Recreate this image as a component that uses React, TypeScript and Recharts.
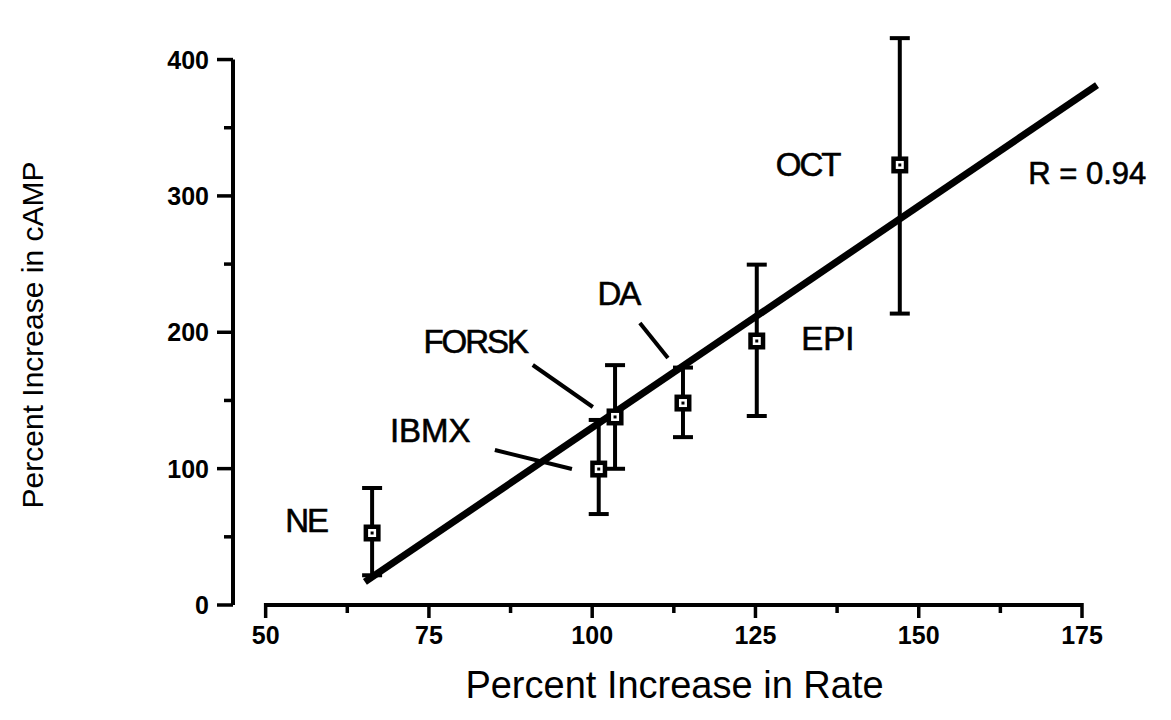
import React from 'react'
import {
    ScatterChart,
    Scatter,
    XAxis,
    YAxis,
    ErrorBar,
    ReferenceLine,
    ReferenceDot,
} from 'recharts'

// drug responses: rate increase vs cAMP increase
const DRUGS = ['NE', 'IBMX', 'FORSK', 'DA', 'EPI', 'OCT']
const RATE = [66.3, 101.0, 103.5, 113.9, 125.2, 147.1]
const CAMP = [52.8, 99.7, 137.9, 148.1, 193.6, 322.7]
const ERR_LOW = [31, 33, 38, 25, 55, 109]
const ERR_HIGH = [33, 36, 38, 26, 56, 93]

// regression line end points
const FIT_X = [65.2, 177.3]
const FIT_Y = [16.9, 381.3]

const X_TICKS = [50, 62.5, 75, 87.5, 100, 112.5, 125, 137.5, 150, 162.5, 175]
const Y_TICKS = [0, 50, 100, 150, 200, 250, 300, 350, 400]

// text annotations (data coords)
const NOTE_TEXT = ['NE', 'IBMX', 'FORSK', 'DA', 'EPI', 'OCT', 'R = 0.94']
const NOTE_X = [56.2, 75.2, 82.1, 104.0, 136.1, 133.0, 175.8]
const NOTE_Y = [62.3, 128.3, 192.9, 228.1, 195.8, 322.7, 316.8]

// leader lines from labels to points
const LEADERS = [
    [[85.1, 113.7], [96.9, 99.7]],
    [[90.9, 176.0], [100.1, 145.2]],
    [[107.3, 206.8], [111.6, 181.1]],
]

const FONT = '"Liberation Sans", Arial, Helvetica, sans-serif'

const data = DRUGS.map((name, i) => ({
    name,
    x: RATE[i],
    y: CAMP[i],
    err: [ERR_LOW[i], ERR_HIGH[i]],
}))

const Marker = (props: any) => {
    const { cx, cy } = props
    if (cx == null || cy == null) return null
    return (
        <g>
            <rect x={cx - 8.5} y={cy - 8.5} width={17} height={17} fill="#000" />
            <rect x={cx - 4} y={cy - 4} width={8} height={8} fill="#fff" />
            <rect x={cx - 1.5} y={cy - 1.5} width={3} height={3} fill="#000" />
        </g>
    )
}

const XTick = (props: any) => {
    const { x, y, payload } = props
    const major = payload.value % 25 === 0
    return (
        <g>
            <line x1={x} y1={y - 2} x2={x} y2={y + (major ? 13 : 8)} stroke="#000" strokeWidth={3.5} />
            {major && (
                <text x={x} y={y + 30} textAnchor="middle" dominantBaseline="central"
                    fontFamily={FONT} fontWeight="bold" fontSize={25} fill="#000">
                    {payload.value}
                </text>
            )}
        </g>
    )
}

const YTick = (props: any) => {
    const { x, y, payload } = props
    const major = payload.value % 100 === 0
    return (
        <g>
            <line x1={x} y1={y} x2={x - (major ? 16 : 9)} y2={y} stroke="#000" strokeWidth={3.5} />
            {major && (
                <text x={x - 24} y={y} textAnchor="end" dominantBaseline="central"
                    fontFamily={FONT} fontWeight="bold" fontSize={25} fill="#000">
                    {payload.value}
                </text>
            )}
        </g>
    )
}

const noteShape = (text: string) => (p: any) => (
    <text x={p.cx} y={p.cy} textAnchor="middle" dominantBaseline="central"
        fontFamily={FONT} fontSize={text.startsWith('R') ? 31 : 33}
        letterSpacing={text === 'IBMX' || text === 'EPI' || text.startsWith('R') ? 0 : -2}
        fill="#000" stroke="#000" strokeWidth={0.6}>
        {text}
    </text>
)

const YTitle = () => (
    <text transform="translate(32,335) rotate(-90)" textAnchor="middle" dominantBaseline="central"
        fontFamily={FONT} fontSize={30} fill="#000">
        Percent Increase in cAMP
    </text>
)

export default function App() {
    return (
        <div style={{ position: 'absolute', left: 0, top: 0, background: '#fff' }}>
            <ScatterChart
                width={1171}
                height={720}
                margin={{ top: 5, right: 89, bottom: 0, left: 0 }}
            >
                <XAxis
                    type="number"
                    dataKey="x"
                    domain={[45, 175]}
                    ticks={X_TICKS}
                    interval={0}
                    axisLine={false}
                    tickLine={false}
                    tickSize={0}
                    tickMargin={0}
                    tick={<XTick />}
                    height={115}
                    label={{
                        value: 'Percent Increase in Rate',
                        position: 'insideBottom',
                        offset: 22,
                        dx: 17,
                        fontSize: 38,
                        fontFamily: FONT,
                        fill: '#000',
                    }}
                />
                <YAxis
                    type="number"
                    dataKey="y"
                    domain={[0, 440]}
                    ticks={Y_TICKS}
                    interval={0}
                    axisLine={false}
                    tickLine={false}
                    tickSize={0}
                    tickMargin={0}
                    tick={<YTick />}
                    width={233}
                    label={{ content: <YTitle /> }}
                />
                {/* axis lines: separated at the origin */}
                <ReferenceLine segment={[{ x: 45, y: 0 }, { x: 45, y: 400 }]} stroke="#000" strokeWidth={4} ifOverflow="visible" />
                <ReferenceLine segment={[{ x: 50, y: 0 }, { x: 175, y: 0 }]} stroke="#000" strokeWidth={4} ifOverflow="visible" />
                <ReferenceLine
                    segment={[{ x: FIT_X[0], y: FIT_Y[0] }, { x: FIT_X[1], y: FIT_Y[1] }]}
                    stroke="#000"
                    strokeWidth={7}
                    ifOverflow="visible"
                />
                {LEADERS.map((seg, i) => (
                    <ReferenceLine
                        key={'l' + i}
                        segment={[{ x: seg[0][0], y: seg[0][1] }, { x: seg[1][0], y: seg[1][1] }]}
                        stroke="#000"
                        strokeWidth={4}
                        ifOverflow="visible"
                    />
                ))}
                {NOTE_TEXT.map((t, i) => (
                    <ReferenceDot
                        key={'n' + i}
                        x={NOTE_X[i]}
                        y={NOTE_Y[i]}
                        r={0}
                        ifOverflow="visible"
                        shape={noteShape(t)}
                    />
                ))}
                <Scatter data={data} shape={<Marker />} isAnimationActive={false}>
                    <ErrorBar dataKey="err" direction="y" width={10} strokeWidth={4} stroke="#000" />
                </Scatter>
            </ScatterChart>
        </div>
    )
}
